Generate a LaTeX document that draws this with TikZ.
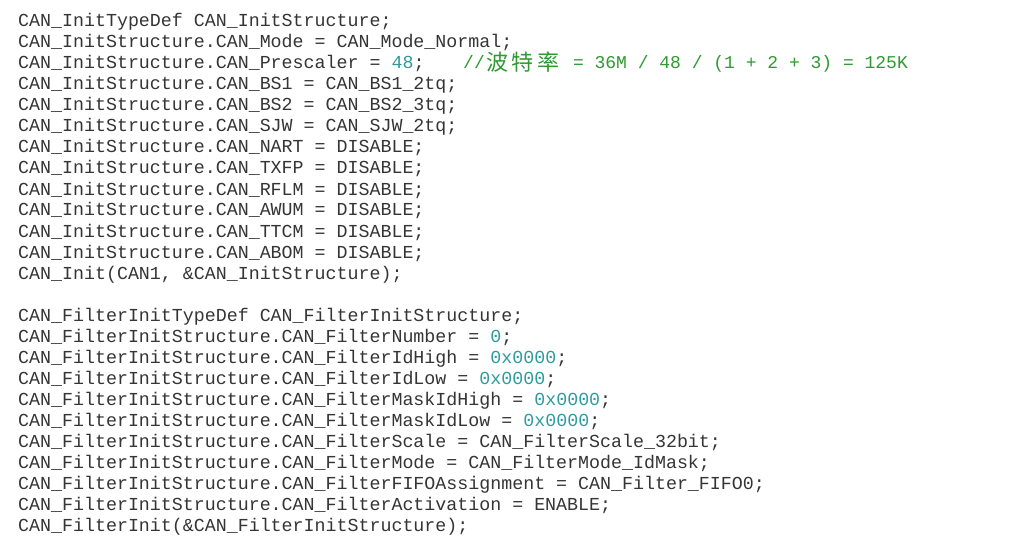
\documentclass[tikz,border=0pt]{standalone}
\usepackage{fontspec}
\setmonofont{Liberation Mono}
\newfontfamily\cjk{Noto Sans CJK SC}
\usetikzlibrary{positioning}
\definecolor{codegray}{HTML}{353535}
\definecolor{numcol}{HTML}{2E9C9E}
\definecolor{cmtcol}{HTML}{2F9A32}
\newcommand{\cnum}[1]{\textcolor{numcol}{#1}}
\tikzset{
    codeline/.style = {anchor=base west, inner sep=0pt, text=codegray,
      font=\ttfamily\fontsize{18.3pt}{21pt}\selectfont},
    cmtline/.style = {anchor=base west, inner sep=0pt, text=cmtcol,
      font=\ttfamily\fontsize{18pt}{21pt}\selectfont},
    hzline/.style = {anchor=base west, inner sep=0pt, text=cmtcol,
      font=\cjk\fontsize{22pt}{21pt}\selectfont}
}

\begin{document}
\begin{tikzpicture}[x=1pt,y=1pt]
  \useasboundingbox[fill=white] (0,0) rectangle (1024,547);
  % CAN init
  \node[codeline] (l1)  at (18,520) {CAN\_InitTypeDef CAN\_InitStructure;};
  \node[codeline] (l2)  at (18,499) {CAN\_InitStructure.CAN\_Mode = CAN\_Mode\_Normal;};
  \node[codeline] (l3)  at (18,478) {CAN\_InitStructure.CAN\_Prescaler = \cnum{48};};
  % comment of line 3
  \node[cmtline]  (c3a) at (463,478) {//};
  \node[hzline]   (c3b) at (486,476) {波\kern3.5pt 特\kern3.5pt 率};
  \node[cmtline]  (c3c) at (562,478) {~= 36M / 48 / (1 + 2 + 3) = 125K};
  \node[codeline] (l4)  at (18,457) {CAN\_InitStructure.CAN\_BS1 = CAN\_BS1\_2tq;};
  \node[codeline] (l5)  at (18,436) {CAN\_InitStructure.CAN\_BS2 = CAN\_BS2\_3tq;};
  \node[codeline] (l6)  at (18,415) {CAN\_InitStructure.CAN\_SJW = CAN\_SJW\_2tq;};
  \node[codeline] (l7)  at (18,394) {CAN\_InitStructure.CAN\_NART = DISABLE;};
  \node[codeline] (l8)  at (18,373) {CAN\_InitStructure.CAN\_TXFP = DISABLE;};
  \node[codeline] (l9)  at (18,352) {CAN\_InitStructure.CAN\_RFLM = DISABLE;};
  \node[codeline] (l10) at (18,331) {CAN\_InitStructure.CAN\_AWUM = DISABLE;};
  \node[codeline] (l11) at (18,310) {CAN\_InitStructure.CAN\_TTCM = DISABLE;};
  \node[codeline] (l12) at (18,289) {CAN\_InitStructure.CAN\_ABOM = DISABLE;};
  \node[codeline] (l13) at (18,268) {CAN\_Init(CAN1, \&CAN\_InitStructure);};
  % filter init
  \node[codeline] (l15) at (18,226) {CAN\_FilterInitTypeDef CAN\_FilterInitStructure;};
  \node[codeline] (l16) at (18,205) {CAN\_FilterInitStructure.CAN\_FilterNumber = \cnum{0};};
  \node[codeline] (l17) at (18,184) {CAN\_FilterInitStructure.CAN\_FilterIdHigh = \cnum{0x0000};};
  \node[codeline] (l18) at (18,163) {CAN\_FilterInitStructure.CAN\_FilterIdLow = \cnum{0x0000};};
  \node[codeline] (l19) at (18,142) {CAN\_FilterInitStructure.CAN\_FilterMaskIdHigh = \cnum{0x0000};};
  \node[codeline] (l20) at (18,121) {CAN\_FilterInitStructure.CAN\_FilterMaskIdLow = \cnum{0x0000};};
  \node[codeline] (l21) at (18,100) {CAN\_FilterInitStructure.CAN\_FilterScale = CAN\_FilterScale\_32bit;};
  \node[codeline] (l22) at (18,79)  {CAN\_FilterInitStructure.CAN\_FilterMode = CAN\_FilterMode\_IdMask;};
  \node[codeline] (l23) at (18,58)  {CAN\_FilterInitStructure.CAN\_FilterFIFOAssignment = CAN\_Filter\_FIFO0;};
  \node[codeline] (l24) at (18,37)  {CAN\_FilterInitStructure.CAN\_FilterActivation = ENABLE;};
  \node[codeline] (l25) at (18,16)  {CAN\_FilterInit(\&CAN\_FilterInitStructure);};
\end{tikzpicture}
\end{document}
